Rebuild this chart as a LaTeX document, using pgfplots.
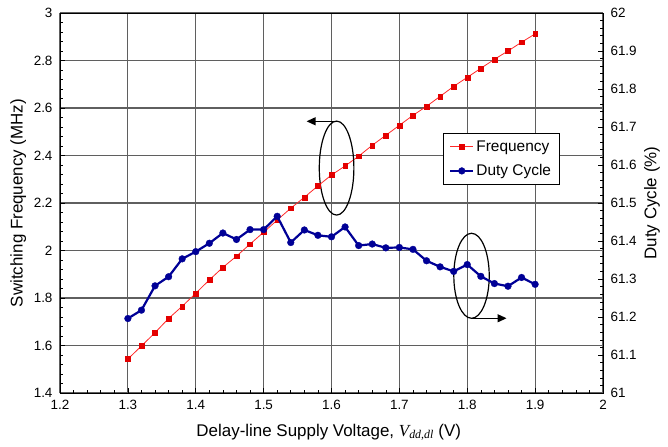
\documentclass[border=0pt]{standalone}
\usepackage{pgfplots}
\pgfplotsset{compat=1.18}
\usepackage{fontspec}
\setmainfont{Liberation Sans}
\newfontfamily\tnr{Liberation Serif}
\usetikzlibrary{arrows.meta}
\definecolor{freqred}{RGB}{228,0,0}
\definecolor{freqline}{RGB}{255,40,40}
\definecolor{dutyblue}{RGB}{0,0,150}
\definecolor{gridgray}{RGB}{95,95,95}

\pgfplotstableread{
x y
1.30 1.543
1.32 1.598
1.34 1.654
1.36 1.714
1.38 1.765
1.40 1.820
1.42 1.876
1.44 1.929
1.46 1.976
1.48 2.027
1.50 2.077
1.52 2.128
1.54 2.178
1.56 2.224
1.58 2.272
1.60 2.318
1.62 2.356
1.64 2.397
1.66 2.443
1.68 2.485
1.70 2.527
1.72 2.569
1.74 2.607
1.76 2.649
1.78 2.691
1.80 2.729
1.82 2.767
1.84 2.805
1.86 2.840
1.88 2.877
1.90 2.912
}\freqdata

\pgfplotstableread{
x y
1.30 61.196
1.32 61.218
1.34 61.282
1.36 61.306
1.38 61.353
1.40 61.372
1.42 61.394
1.44 61.421
1.46 61.404
1.48 61.430
1.50 61.430
1.52 61.465
1.54 61.396
1.56 61.429
1.58 61.415
1.60 61.411
1.62 61.437
1.64 61.388
1.66 61.392
1.68 61.382
1.70 61.383
1.72 61.378
1.74 61.348
1.76 61.332
1.78 61.320
1.80 61.338
1.82 61.307
1.84 61.288
1.86 61.281
1.88 61.304
1.90 61.286
}\dutydata

\begin{document}
\begin{tikzpicture}
\pgfplotsset{
  every axis/.append style={
    scale only axis, width=543bp, height=380bp,
    xmin=1.2, xmax=2,
    tick align=inside,
    major tick length=5bp, minor tick length=3bp,
    every tick/.style={black, line width=0.6bp},
    axis line style={black, line width=0.9bp},
    /pgf/number format/assume math mode=true,
    tick label style={font=\fontsize{13.5}{16}\selectfont},
    label style={font=\fontsize{17}{20}\selectfont},
  },
  freqstyle/.style={color=freqline, line width=0.8bp, mark=square*,
    mark size=2.4bp, mark options={fill=freqred, draw=freqred, line width=0.3bp}},
  dutystyle/.style={color=dutyblue, line width=2.2bp, mark=*,
    mark size=3.4bp, mark options={fill=dutyblue, draw=dutyblue, line width=0.3bp}},
  legend image code/.code={\draw[mark repeat=2,mark phase=2,#1] plot coordinates {(0bp,0bp) (11.5bp,0bp) (23bp,0bp)};},
}
\begin{axis}[
  ymin=1.4, ymax=3,
  xtick={1.2,1.3,1.4,1.5,1.6,1.7,1.8,1.9,2},
  ytick={1.4,1.6,1.8,2,2.2,2.4,2.6,2.8,3},
  minor x tick num=4, minor y tick num=4,
  xtick pos=left, ytick pos=left,
  grid=major,
  major grid style={gridgray, line width=1.1bp},
  xlabel={Delay-line Supply Voltage, {\tnr\itshape V\textsubscript{dd,dl}} (V)},
  ylabel={Switching Frequency (MHz)},
  xlabel style={at={(axis description cs:0.495,-0.103)}, anchor=center},
  ylabel style={at={(axis description cs:-0.077,0.5)}, anchor=center},
  xticklabel style={yshift=-4bp},
  yticklabel style={xshift=-4bp},
]
\addplot[freqstyle] table {\freqdata};
\coordinate (ll) at (rel axis cs:0,0);
\coordinate (ur) at (rel axis cs:1,1);
\draw[black, line width=1.2bp] (axis cs:1.6075,2.347) ellipse [x radius=17.3bp, y radius=47bp];
\draw[black, line width=1.2bp, -{Triangle[length=9bp,width=8bp]}] (axis cs:1.6075,2.544) -- (axis cs:1.5633,2.544);
\draw[black, line width=1.2bp] (axis cs:1.8063,1.8935) ellipse [x radius=17.7bp, y radius=42.5bp];
\draw[black, line width=1.2bp, -{Triangle[length=9bp,width=8bp]}] (axis cs:1.8063,1.7147) -- (axis cs:1.8579,1.7147);
\end{axis}
\begin{axis}[
  axis y line*=right, axis x line=none,
  ymin=61, ymax=62,
  ytick={61,61.1,61.2,61.3,61.4,61.5,61.6,61.7,61.8,61.9,62},
  minor y tick num=4,
  ylabel={Duty Cycle (\%)},
  ylabel style={at={(axis description cs:1.09,0.5)}, anchor=center},
  yticklabel style={xshift=4bp},
  legend style={at={(rel axis cs:0.705,0.684)}, anchor=north west,
    draw=black, line width=0.8bp, fill=white,
    font=\fontsize{15.5}{18}\selectfont,
    inner xsep=6bp, inner ysep=5bp, row sep=8bp},
  legend cell align=left,
]
\addlegendimage{freqstyle}
\addlegendentry{Frequency}
\addplot[dutystyle] table {\dutydata};
\addlegendentry{Duty Cycle}
\end{axis}
\pgfresetboundingbox
\path ([shift={(-60bp,-54bp)}]ll) rectangle ([shift={(65bp,13bp)}]ur);
\end{tikzpicture}
\end{document}
